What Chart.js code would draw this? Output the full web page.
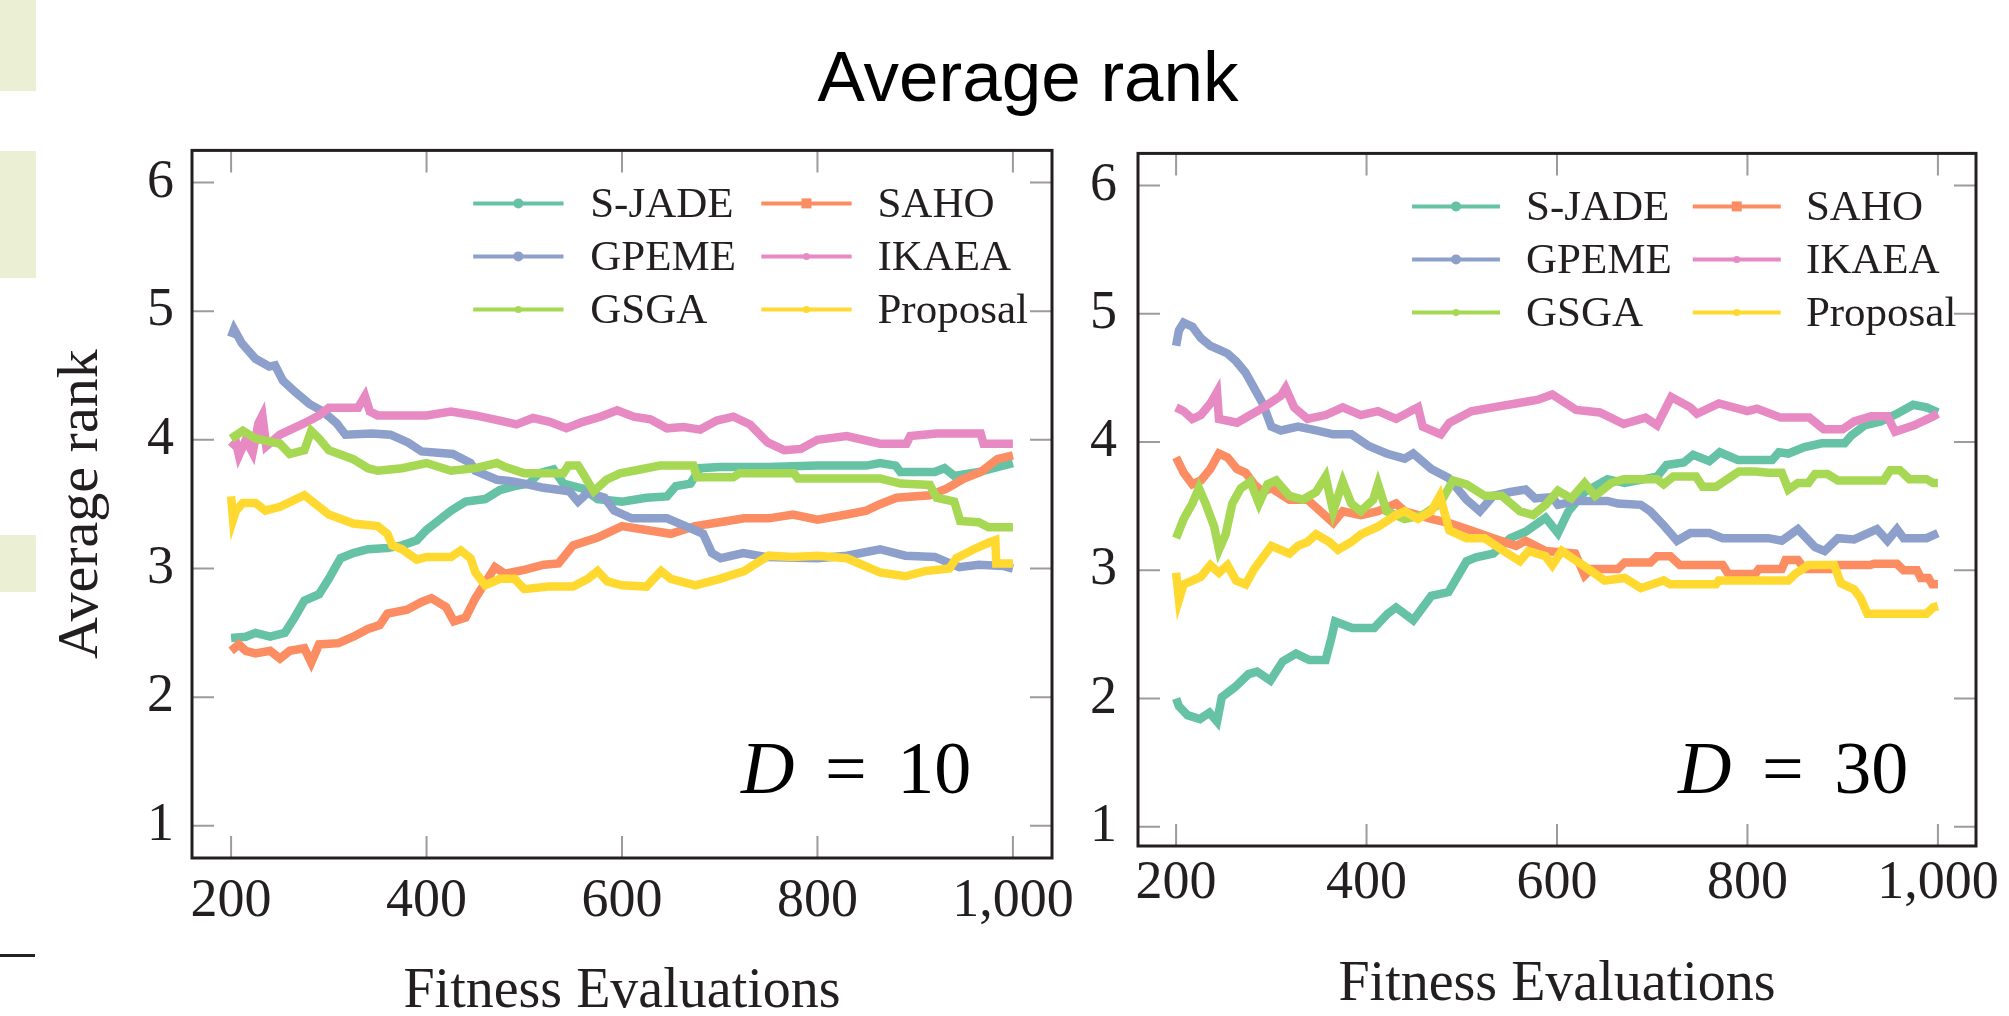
<!DOCTYPE html>
<html>
<head>
<meta charset="utf-8">
<script src="https://cdn.jsdelivr.net/npm/chart.js@4.4.1/dist/chart.umd.min.js"></script>
<style>
  body { margin: 0; width: 2009px; height: 1016px; overflow: hidden; background: #fff; position: relative; }
  .box { position: absolute; }
  #title { position: absolute; left: 728px; top: 41px; width: 600px; text-align: center;
           font: 71px "Liberation Sans", Arial, sans-serif; line-height: 71px; color: #000; }
  .dlabel { position: absolute; top: 731px; font: 74px "Liberation Serif", serif; line-height: 74px;
            color: #000; white-space: pre; word-spacing: 12px; }
  .side { position: absolute; left: 0; width: 36px; background: #ebf0d4; }
</style>
</head>
<body>
<div class="side" style="top:0;height:91px"></div>
<div class="side" style="top:151px;height:127px"></div>
<div class="side" style="top:535px;height:57px"></div>
<div style="position:absolute;left:0;top:954px;width:35px;height:3px;background:#222"></div>

<div id="title">Average rank</div>

<canvas id="chart10" class="box" style="left:0;top:100px;width:1090px;height:960px"></canvas>
<canvas id="chart30" class="box" style="left:1090px;top:100px;width:926px;height:960px"></canvas>

<div class="dlabel" style="left:741px"><i>D</i> = 10</div>
<div class="dlabel" style="left:1678px"><i>D</i> = 30</div>

<script>
// series names and colours (pgfplots Set2)
const names = ["S-JADE", "SAHO", "GPEME", "IKAEA", "GSGA", "Proposal"];
const colors = ["#66c2a5", "#fc8d62", "#8da0cb", "#e78ac3", "#a6d854", "#ffd92f"];

const xTicks = [200, 400, 600, 800, 1000];
const xTickLabels = ["200", "400", "600", "800", "1,000"];
const yTicks = [1, 2, 3, 4, 5, 6];

// D = 10, [fitness evaluations, average rank]
const sjade10 = [[200,2.46],[215,2.47],[225,2.50],[240,2.47],[255,2.50],[265,2.62],[275,2.75],[290,2.80],[300,2.92],[312,3.08],[325,3.12],[340,3.15],[360,3.16],[375,3.18],[390,3.22],[400,3.30],[425,3.45],[440,3.52],[460,3.54],[475,3.61],[490,3.64],[505,3.66],[515,3.74],[530,3.77],[540,3.66],[560,3.62],[575,3.54],[600,3.52],[625,3.55],[646,3.56],[655,3.64],[670,3.66],[680,3.78],[700,3.79],[750,3.79],[800,3.80],[850,3.80],[864,3.82],[880,3.80],[885,3.75],[920,3.75],[930,3.78],[940,3.72],[965,3.75],[980,3.78],[1000,3.82]];
const saho10 = [[200,2.36],[208,2.41],[215,2.36],[225,2.34],[240,2.36],[250,2.30],[260,2.36],[275,2.38],[282,2.27],[290,2.41],[310,2.42],[325,2.47],[340,2.53],[352,2.56],[360,2.65],[380,2.68],[395,2.74],[405,2.77],[420,2.70],[428,2.59],[440,2.62],[450,2.77],[460,2.89],[470,3.01],[480,2.96],[500,2.99],[520,3.03],[535,3.04],[550,3.18],[575,3.24],[600,3.33],[625,3.30],[650,3.27],[675,3.33],[700,3.36],[725,3.39],[750,3.39],[775,3.42],[800,3.38],[830,3.42],[850,3.45],[864,3.50],[881,3.55],[915,3.57],[932,3.62],[950,3.70],[967,3.75],[984,3.85],[1000,3.88]];
const gpeme10 = [[200,4.80],[203,4.86],[211,4.75],[225,4.63],[239,4.57],[245,4.58],[253,4.46],[266,4.37],[280,4.28],[294,4.22],[308,4.13],[317,4.04],[344,4.05],[363,4.04],[381,3.98],[395,3.91],[427,3.89],[445,3.82],[450,3.76],[472,3.69],[485,3.68],[500,3.66],[518,3.63],[546,3.60],[555,3.52],[565,3.59],[582,3.55],[592,3.45],[610,3.39],[646,3.39],[665,3.33],[683,3.27],[692,3.12],[701,3.08],[724,3.12],[747,3.09],[800,3.08],[830,3.10],[864,3.15],[890,3.10],[920,3.09],[945,3.01],[965,3.03],[990,3.02],[1000,3.00]];
const ikaea10 = [[200,3.94],[205,3.98],[208,3.88],[215,4.00],[222,3.90],[228,4.13],[232,4.19],[236,3.95],[250,4.04],[275,4.13],[290,4.19],[300,4.25],[330,4.25],[337,4.34],[342,4.22],[350,4.19],[400,4.19],[425,4.22],[450,4.19],[475,4.15],[492,4.12],[509,4.17],[526,4.14],[543,4.09],[560,4.14],[578,4.18],[595,4.23],[612,4.18],[629,4.16],[646,4.09],[663,4.10],[680,4.08],[697,4.15],[714,4.18],[731,4.12],[749,3.98],[766,3.92],[783,3.93],[800,4.00],[830,4.03],[864,3.97],[891,3.97],[895,4.03],[922,4.05],[967,4.05],[970,3.97],[1000,3.97]];
const gsga10 = [[200,4.01],[212,4.07],[225,4.01],[250,3.97],[260,3.89],[275,3.92],[282,4.07],[290,4.01],[300,3.92],[325,3.85],[340,3.78],[350,3.76],[375,3.78],[400,3.82],[425,3.76],[450,3.78],[472,3.82],[480,3.79],[500,3.74],[540,3.74],[545,3.80],[555,3.80],[560,3.74],[571,3.60],[584,3.69],[598,3.74],[612,3.76],[639,3.80],[673,3.80],[677,3.71],[714,3.71],[720,3.74],[776,3.74],[780,3.70],[813,3.70],[864,3.70],[885,3.66],[915,3.65],[922,3.55],[940,3.52],[946,3.37],[965,3.36],[975,3.32],[1000,3.32]];
const proposal10 = [[200,3.56],[202,3.38],[205,3.45],[212,3.51],[225,3.51],[235,3.45],[250,3.48],[275,3.57],[290,3.48],[300,3.42],[325,3.35],[350,3.33],[360,3.27],[365,3.18],[375,3.15],[390,3.07],[400,3.09],[425,3.09],[435,3.14],[445,3.08],[450,2.97],[460,2.87],[475,2.92],[490,2.92],[500,2.84],[525,2.86],[550,2.86],[565,2.92],[575,2.98],[585,2.90],[600,2.87],[625,2.86],[640,2.98],[650,2.92],[675,2.87],[700,2.92],[725,2.98],[750,3.10],[775,3.09],[800,3.10],[830,3.08],[864,2.97],[890,2.94],[910,2.98],[935,3.00],[942,3.08],[960,3.15],[975,3.20],[982,3.22],[983,3.04],[1000,3.04]];

// D = 30
const sjade30 = [[200,2.00],[203,1.94],[212,1.87],[225,1.84],[235,1.89],[243,1.82],[248,2.01],[262,2.09],[276,2.19],[285,2.21],[299,2.14],[312,2.29],[326,2.35],[340,2.30],[357,2.30],[363,2.47],[367,2.60],[385,2.55],[408,2.55],[422,2.66],[431,2.71],[449,2.61],[468,2.80],[486,2.83],[505,3.07],[515,3.10],[533,3.13],[551,3.25],[567,3.30],[588,3.41],[601,3.29],[612,3.46],[629,3.61],[653,3.71],[671,3.68],[705,3.73],[715,3.82],[733,3.84],[743,3.90],[760,3.85],[771,3.92],[790,3.86],[826,3.86],[833,3.92],[843,3.91],[860,3.96],[878,3.99],[902,3.99],[909,4.05],[923,4.13],[940,4.16],[957,4.22],[974,4.29],[988,4.27],[1000,4.23]];
const saho30 = [[200,3.88],[208,3.76],[217,3.67],[226,3.70],[236,3.79],[245,3.91],[254,3.88],[264,3.79],[273,3.76],[282,3.67],[291,3.61],[300,3.64],[319,3.55],[338,3.55],[347,3.49],[365,3.37],[375,3.46],[394,3.43],[412,3.46],[431,3.52],[440,3.46],[468,3.40],[486,3.37],[510,3.31],[533,3.25],[557,3.19],[567,3.23],[588,3.15],[619,3.13],[629,2.96],[636,3.01],[664,3.01],[671,3.06],[698,3.06],[705,3.11],[719,3.11],[729,3.04],[774,3.04],[780,2.97],[808,2.97],[812,3.01],[836,3.01],[840,3.08],[853,3.08],[860,3.01],[891,3.01],[895,3.04],[929,3.04],[933,3.05],[957,3.05],[964,3.00],[978,3.00],[982,2.94],[990,2.94],[994,2.89],[1000,2.89]];
const gpeme30 = [[200,4.75],[203,4.87],[208,4.93],[217,4.90],[226,4.81],[236,4.75],[245,4.72],[254,4.69],[263,4.63],[273,4.54],[282,4.42],[291,4.30],[300,4.12],[310,4.09],[328,4.12],[347,4.09],[365,4.06],[384,4.06],[402,3.97],[421,3.91],[440,3.87],[449,3.91],[468,3.79],[486,3.72],[505,3.55],[519,3.46],[533,3.58],[551,3.61],[567,3.63],[577,3.56],[595,3.57],[601,3.51],[619,3.54],[653,3.54],[664,3.52],[688,3.51],[698,3.46],[712,3.35],[719,3.29],[726,3.23],[740,3.29],[760,3.29],[774,3.25],[822,3.25],[836,3.23],[853,3.32],[871,3.18],[881,3.15],[895,3.25],[912,3.24],[936,3.32],[947,3.23],[957,3.32],[964,3.25],[988,3.25],[1000,3.29]];
const ikaea30 = [[200,4.27],[208,4.24],[217,4.18],[226,4.21],[236,4.30],[243,4.39],[245,4.18],[264,4.15],[278,4.21],[292,4.27],[310,4.36],[315,4.42],[324,4.27],[338,4.18],[357,4.21],[375,4.27],[394,4.21],[412,4.24],[431,4.18],[454,4.27],[459,4.12],[478,4.06],[487,4.15],[510,4.24],[533,4.27],[557,4.30],[580,4.33],[595,4.37],[620,4.25],[645,4.23],[670,4.14],[693,4.19],[705,4.13],[720,4.35],[740,4.27],[747,4.22],[770,4.30],[800,4.24],[810,4.26],[835,4.19],[865,4.19],[880,4.10],[900,4.10],[912,4.16],[930,4.20],[947,4.20],[955,4.08],[975,4.13],[995,4.20],[1000,4.22]];
const gsga30 = [[200,3.25],[208,3.40],[217,3.52],[224,3.64],[231,3.52],[240,3.34],[245,3.16],[252,3.28],[259,3.52],[268,3.64],[278,3.69],[287,3.52],[296,3.67],[305,3.70],[319,3.58],[333,3.55],[347,3.61],[357,3.73],[365,3.46],[375,3.69],[384,3.52],[394,3.46],[407,3.55],[412,3.67],[421,3.46],[440,3.40],[459,3.43],[477,3.52],[491,3.70],[505,3.67],[524,3.58],[542,3.58],[561,3.46],[575,3.43],[588,3.51],[601,3.62],[615,3.56],[629,3.68],[640,3.58],[657,3.68],[670,3.71],[705,3.71],[712,3.67],[722,3.73],[746,3.73],[753,3.65],[767,3.65],[781,3.72],[791,3.77],[808,3.77],[822,3.76],[836,3.76],[843,3.63],[853,3.68],[864,3.68],[871,3.75],[884,3.75],[895,3.70],[943,3.70],[950,3.78],[960,3.78],[970,3.71],[988,3.71],[995,3.68],[1000,3.68]];
const proposal30 = [[200,2.98],[203,2.77],[208,2.89],[217,2.92],[226,2.95],[236,3.04],[245,2.98],[254,3.04],[263,2.92],[273,2.89],[282,3.01],[291,3.10],[300,3.19],[319,3.13],[328,3.19],[338,3.22],[347,3.28],[361,3.22],[370,3.16],[384,3.22],[394,3.28],[412,3.34],[431,3.43],[440,3.46],[454,3.40],[468,3.46],[477,3.58],[487,3.31],[505,3.25],[524,3.25],[542,3.16],[561,3.07],[570,3.15],[588,3.11],[595,3.04],[605,3.15],[619,3.08],[629,3.03],[650,2.92],[671,2.94],[688,2.86],[712,2.92],[719,2.89],[767,2.89],[770,2.92],[843,2.92],[850,2.97],[864,3.04],[891,3.04],[898,2.90],[912,2.85],[919,2.78],[926,2.66],[988,2.66],[995,2.71],[1000,2.72]];

const serif = '"Liberation Serif", "Times New Roman", serif';
const ink = "#231f20";

// pgfplots-like box: inner ticks on all four sides plus a black frame
const boxPlugin = {
  id: "pgfBox",
  beforeDatasetsDraw(chart) {
    const { ctx, chartArea: a, scales: { x, y } } = chart;
    ctx.save();
    ctx.strokeStyle = "#9c9c9c";
    ctx.lineWidth = 2;
    ctx.beginPath();
    xTicks.forEach(v => {
      const px = x.getPixelForValue(v);
      ctx.moveTo(px, a.bottom); ctx.lineTo(px, a.bottom - 22);
      ctx.moveTo(px, a.top); ctx.lineTo(px, a.top + 22);
    });
    yTicks.forEach(v => {
      const py = y.getPixelForValue(v);
      ctx.moveTo(a.left, py); ctx.lineTo(a.left + 22, py);
      ctx.moveTo(a.right, py); ctx.lineTo(a.right - 22, py);
    });
    ctx.stroke();
    ctx.restore();
  },
  afterDraw(chart) {
    const { ctx, chartArea: a } = chart;
    ctx.save();
    ctx.strokeStyle = ink;
    ctx.lineWidth = 3;
    ctx.strokeRect(a.left, a.top, a.right - a.left, a.bottom - a.top);
    ctx.restore();
  }
};

// two-column legend in the upper right of the plot
const legendPlugin = {
  id: "pgfLegend",
  afterDatasetsDraw(chart) {
    const { ctx, chartArea: a } = chart;
    const w = a.right - a.left;
    const lineX = [0.327, 0.662], textX = [0.463, 0.797], rowY = [53, 106, 159];
    ctx.save();
    ctx.font = "43px " + serif;
    ctx.textBaseline = "middle";
    ctx.textAlign = "left";
    chart.data.datasets.forEach((ds, i) => {
      const col = i % 2, row = Math.floor(i / 2);
      const x0 = a.left + w * lineX[col], x1 = x0 + w * 0.105;
      const yy = a.top + rowY[row];
      ctx.strokeStyle = ds.borderColor;
      ctx.lineWidth = 4;
      ctx.beginPath(); ctx.moveTo(x0, yy); ctx.lineTo(x1, yy); ctx.stroke();
      ctx.fillStyle = ds.borderColor;
      const mx = (x0 + x1) / 2;
      if (ds.label === "SAHO") ctx.fillRect(mx - 5, yy - 5, 10, 10);
      else { ctx.beginPath(); ctx.arc(mx, yy, ds.label === "S-JADE" || ds.label === "GPEME" ? 5 : 3.5, 0, Math.PI * 2); ctx.fill(); }
      ctx.fillStyle = ink;
      ctx.fillText(ds.label, a.left + w * textX[col], yy + 2);
    });
    ctx.restore();
  }
};

function makeChart(id, series, opt) {
  const datasets = series.map((s, i) => ({
    label: names[i],
    data: s.map(p => ({ x: p[0], y: p[1] })),
    borderColor: colors[i],
    backgroundColor: colors[i],
    borderWidth: 8.5,
    pointRadius: 0,
    tension: 0,
    order: series.length - i
  }));
  return new Chart(document.getElementById(id), {
    type: "line",
    data: { datasets },
    options: {
      responsive: false,
      animation: false,
      devicePixelRatio: 1,
      layout: { padding: { top: opt.padTop, right: opt.padRight, left: 0, bottom: 0 } },
      plugins: { legend: { display: false }, tooltip: { enabled: false } },
      scales: {
        x: {
          type: "linear",
          min: 160, max: 1040,
          grid: { display: false, drawTicks: false },
          border: { display: false },
          afterBuildTicks: s => { s.ticks = xTicks.map(v => ({ value: v })); },
          afterFit: s => { s.height = opt.xHeight; },
          ticks: {
            padding: opt.xTickPad,
            color: ink,
            maxRotation: 0,
            font: { family: serif, size: 54 },
            callback: v => xTickLabels[xTicks.indexOf(v)]
          },
          title: {
            display: true,
            text: "Fitness Evaluations",
            color: ink,
            font: { family: serif, size: 56 },
            padding: { top: 0, bottom: opt.xTitlePad }
          }
        },
        y: {
          min: opt.yMin, max: 6.25,
          grid: { display: false, drawTicks: false },
          border: { display: false },
          afterBuildTicks: s => { s.ticks = yTicks.map(v => ({ value: v })); },
          afterFit: s => { s.width = opt.yWidth; },
          ticks: {
            padding: opt.yTickPad,
            color: ink,
            font: { family: serif, size: 54 }
          },
          title: {
            display: opt.yTitle,
            text: "Average rank",
            color: ink,
            font: { family: serif, size: 58 },
            padding: { top: 47, bottom: 0 }
          }
        }
      }
    },
    plugins: [boxPlugin, legendPlugin]
  });
}

function sizeCanvas(id, w, h) {
  const c = document.getElementById(id);
  c.width = w; c.height = h;
}
sizeCanvas("chart10", 1090, 960);
sizeCanvas("chart30", 926, 960);

makeChart("chart10", [sjade10, saho10, gpeme10, ikaea10, gsga10, proposal10], {
  padTop: 28, padRight: 38, xHeight: 202, yWidth: 192, yMin: 0.75,
  xTickPad: 11, xTitlePad: 34, yTickPad: 18, yTitle: true
});
makeChart("chart30", [sjade30, saho30, gpeme30, ikaea30, gsga30, proposal30], {
  padTop: 31, padRight: 40, xHeight: 214, yWidth: 48, yMin: 0.85,
  xTickPad: 5, xTitlePad: 41, yTickPad: 21, yTitle: false
});
</script>
</body>
</html>
